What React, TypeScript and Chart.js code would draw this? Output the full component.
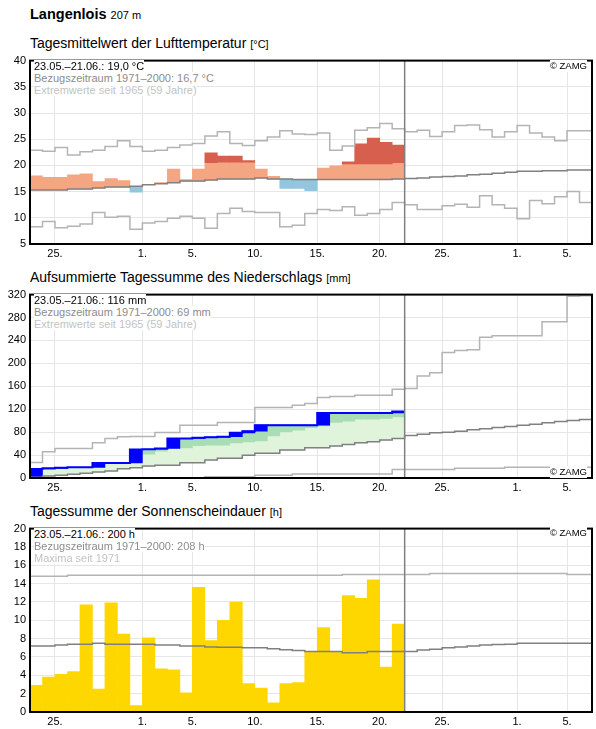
import React, { useEffect, useRef } from 'react';
import { Chart, registerables } from 'chart.js';

Chart.register(...registerables);

const FONT = '"Liberation Sans", Arial, Helvetica, sans-serif';
const GRID = '#e6e6e6';

// Day index 0 = 23.05.; observed 23.05.–21.06. (30 days); axis to 06.07. (45 days)
const totalDays = 45;
const obsEnd = 30;
const tickDays = [2, 9, 13, 18, 23, 28, 33, 39, 43];
const tickLabels = ['25.', '1.', '5.', '10.', '15.', '20.', '25.', '1.', '5.'];

// ---------- Temperature (°C) ----------
const tempActual = [18.0, 17.7, 17.7, 18.2, 18.4, 16.9, 17.5, 17.1, 14.9, 16.3, 16.7, 19.3, 17.3, 19.3, 22.4, 21.8, 21.8, 20.9, 19.3, 17.9, 15.6, 15.6, 15.2, 19.5, 19.9, 20.7, 24.1, 25.2, 24.4, 23.9];
const tempMean = [15.3, 15.3, 15.3, 15.5, 15.5, 15.7, 15.9, 15.9, 16.0, 16.3, 16.5, 16.7, 17.0, 17.0, 17.2, 17.4, 17.4, 17.4, 17.6, 17.4, 17.4, 17.3, 17.3, 17.3, 17.3, 17.3, 17.3, 17.3, 17.3, 17.4, 17.5, 17.6, 17.8, 17.9, 18.0, 18.2, 18.3, 18.5, 18.7, 18.9, 18.9, 19.0, 19.0, 19.1, 19.1];
const tempUpper = [18.5, 18.5, 18.5, 18.7, 18.7, 18.9, 19.1, 19.1, 19.2, 19.5, 19.7, 19.9, 20.2, 20.2, 20.5, 20.6, 20.6, 20.6, 20.7, 20.6, 20.6, 20.5, 20.4, 20.4, 20.4, 20.3, 20.3, 20.3, 20.3, 20.5];
const tempMax = [22.9, 22.7, 23.4, 22.0, 22.6, 22.9, 23.6, 24.7, 23.6, 22.7, 22.9, 23.4, 23.9, 24.2, 25.6, 26.4, 24.2, 23.8, 24.7, 25.4, 26.6, 26.0, 25.9, 26.2, 22.9, 23.7, 26.7, 27.2, 28.0, 27.0, 26.4, 26.7, 25.5, 26.4, 27.6, 27.7, 26.8, 25.4, 26.4, 27.6, 26.2, 25.4, 24.7, 26.6, 26.6];
const tempMin = [8.3, 9.3, 8.1, 8.4, 8.8, 11.0, 10.1, 10.3, 7.8, 9.0, 9.3, 9.9, 10.3, 9.9, 8.0, 10.8, 11.8, 11.2, 11.0, 11.0, 8.3, 8.6, 10.8, 11.6, 11.4, 12.1, 10.5, 10.8, 11.6, 12.9, 12.5, 11.6, 11.6, 12.3, 12.6, 12.0, 14.2, 12.5, 11.8, 9.8, 13.3, 12.7, 14.0, 15.0, 12.9];

// ---------- Precipitation, cumulative (mm) ----------
const precipCum = [15.7, 16.8, 18.0, 18.6, 18.6, 26.1, 26.1, 26.3, 49.9, 50.2, 51.6, 69.0, 69.0, 70.2, 71.3, 71.9, 78.8, 81.7, 92.2, 92.2, 92.2, 92.2, 92.2, 113.5, 113.5, 113.5, 113.5, 113.5, 113.5, 116.0];
const precipUpper = [30, 33, 35, 36, 37, 38, 39, 40, 41, 41.7, 47, 51.5, 52.7, 56.2, 57.4, 57.4, 61.4, 63.1, 64.9, 73.6, 80.5, 83.5, 88, 91, 96.8, 99, 102.6, 102.6, 104, 106.6];
const precipMean = [1.2, 3.5, 4.6, 6.4, 8.1, 10.4, 12.2, 16.2, 17.9, 21.0, 22.1, 22.1, 26.6, 26.6, 31.3, 34.3, 34.3, 39.5, 43.0, 43.0, 48.7, 48.7, 52.7, 52.7, 55.7, 58.6, 61.4, 63.2, 66.1, 69.0, 74.2, 76.5, 78.8, 80.0, 81.7, 84.0, 85.8, 88.1, 89.9, 92.2, 93.9, 96.2, 98.6, 100.3, 102.0];
const precipMax = [27.2, 45.8, 51.6, 51.6, 51.6, 61.4, 69.0, 71.8, 72.5, 72.5, 79.4, 79.4, 92.2, 92.2, 92.2, 96.8, 96.8, 96.8, 123.0, 123.0, 123.0, 127.0, 129.9, 140.3, 142.0, 142.0, 144.3, 144.3, 144.3, 154.8, 156.0, 178.0, 183.8, 219.0, 222.6, 223.8, 245.8, 248.0, 248.0, 248.0, 248.0, 272.5, 272.5, 317.0, 318.0];
const precipMin = [0, 0, 0, 0, 0, 0, 0, 0, 0, 0, 0, 0, 0, 0, 2, 2, 2, 2, 5, 5, 5, 7, 7, 7, 7, 7, 7, 7, 7, 15, 15, 15, 15, 15, 17, 17, 17, 17, 18.6, 18.6, 18.6, 18.6, 18.6, 18.6, 18.6];

// ---------- Sunshine (h) ----------
const sunHours = [2.9, 3.8, 4.1, 4.4, 11.7, 2.5, 11.9, 8.5, 0.7, 8.1, 4.7, 4.6, 2.1, 13.6, 7.8, 10.0, 12.0, 3.1, 2.6, 1.0, 3.1, 3.2, 6.6, 9.2, 6.6, 12.7, 12.4, 14.4, 4.9, 9.6];
const sunMean = [7.2, 7.2, 7.3, 7.4, 7.4, 7.5, 7.4, 7.4, 7.4, 7.4, 7.3, 7.3, 7.2, 7.2, 7.1, 7.05, 7.05, 7.0, 7.0, 6.9, 6.8, 6.7, 6.6, 6.6, 6.6, 6.45, 6.45, 6.6, 6.6, 6.6, 6.6, 6.75, 6.85, 7.0, 7.1, 7.2, 7.3, 7.35, 7.4, 7.5, 7.5, 7.5, 7.5, 7.5, 7.5];
const sunMax = [14.8, 14.8, 14.8, 14.9, 14.9, 14.9, 14.9, 14.9, 14.9, 14.9, 14.9, 14.9, 14.9, 14.9, 14.9, 14.9, 14.9, 14.9, 14.9, 14.9, 14.9, 14.9, 14.9, 14.9, 14.9, 15.0, 15.0, 15.0, 15.0, 15.0, 15.0, 15.0, 15.1, 15.1, 15.1, 15.1, 15.1, 15.1, 15.1, 15.1, 15.1, 15.1, 15.1, 15.0, 15.0];

type Pair = [number, number] | null;

const stepPoints = (vals: number[]) => vals.flatMap((v, i) => [{ x: i, y: v }, { x: i + 1, y: v }]);
const barPoints = (pairs: Pair[]) => pairs.map((p, i) => ({ x: i + 0.5, y: p }));

const lineDs = (vals: number[], color: string, width: number, order: number) => ({
  type: 'line', data: stepPoints(vals), borderColor: color, borderWidth: width,
  pointRadius: 0, fill: false, tension: 0, order,
});
const barDs = (pairs: Pair[], color: string, order: number) => ({
  type: 'bar', data: barPoints(pairs), backgroundColor: color, borderWidth: 0,
  barPercentage: 1, categoryPercentage: 1, grouped: false, order,
});
const dividerDs = (lo: number, hi: number) => ({
  type: 'line', data: [{ x: obsEnd, y: lo }, { x: obsEnd, y: hi }],
  borderColor: '#808080', borderWidth: 1.5, pointRadius: 0, fill: false, order: 0,
});

const framePlugin = {
  id: 'frame',
  afterDraw(chart: any) {
    const { ctx, chartArea: a } = chart;
    ctx.save();
    ctx.strokeStyle = '#000';
    ctx.lineWidth = 2;
    ctx.strokeRect(a.left, a.top, a.right - a.left, a.bottom - a.top);
    ctx.restore();
  },
};

function makeConfig(yMin: number, yMax: number, yStep: number, datasets: any[]): any {
  return {
    type: 'bar',
    data: { datasets },
    options: {
      responsive: false,
      animation: false,
      devicePixelRatio: 1,
      events: [],
      layout: { padding: { left: 0, right: 4, top: 8, bottom: 0 } },
      plugins: { legend: { display: false }, tooltip: { enabled: false } },
      scales: {
        x: {
          type: 'linear', min: 0, max: totalDays, offset: false,
          grid: { offset: false, color: GRID, drawTicks: false, lineWidth: 1 },
          border: { display: false },
          afterBuildTicks: (s: any) => { s.ticks = tickDays.map((v) => ({ value: v })); },
          afterFit: (s: any) => { s.height = 17; },
          ticks: {
            autoSkip: false, maxRotation: 0, minRotation: 0, padding: 3, color: '#000',
            font: { family: FONT, size: 11 },
            callback: (v: number) => { const i = tickDays.indexOf(v); return i >= 0 ? tickLabels[i] : ''; },
          },
        },
        y: {
          type: 'linear', min: yMin, max: yMax,
          grid: { color: GRID, drawTicks: false, lineWidth: 1 },
          border: { display: false },
          afterFit: (s: any) => { s.width = 30; },
          ticks: { stepSize: yStep, padding: 4, color: '#000', font: { family: FONT, size: 11 } },
        },
      },
    },
    plugins: [framePlugin],
  };
}

// derived bar tables
const tempWarm: Pair[] = tempActual.map((v, i) => (v > tempMean[i] ? [tempMean[i], Math.min(v, tempUpper[i])] : null));
const tempHot: Pair[] = tempActual.map((v, i) => (v > tempUpper[i] ? [tempUpper[i], v] : null));
const tempCool: Pair[] = tempActual.map((v, i) => (v < tempMean[i] ? [v, tempMean[i]] : null));

const precipLight: Pair[] = precipCum.map((c, i) => (c > precipMean[i] ? [precipMean[i], Math.min(c, precipUpper[i])] : null));
const precipDark: Pair[] = precipCum.map((c, i) => (c > precipUpper[i] ? [precipUpper[i], c] : null));
const precipDaily: Pair[] = precipCum.map((c, i) => [i === 0 ? 0 : precipCum[i - 1], c]);

const sunBars: Pair[] = sunHours.map((v) => [0, v]);

const CANVAS_H = 211;
const panelTops = [50, 284, 518];

function TextLine({ left, top, color, children, size = 11 }: any) {
  return (
    <span style={{ position: 'absolute', left, top, fontSize: size, lineHeight: '12px', color, background: '#fff', whiteSpace: 'nowrap' }}>
      {children}
    </span>
  );
}

function Title({ top, text, unit }: any) {
  return (
    <div style={{ position: 'absolute', left: 30, top, fontSize: 14, lineHeight: '18px', color: '#000', whiteSpace: 'nowrap' }}>
      {text} <span style={{ fontSize: 11 }}>{unit}</span>
    </div>
  );
}

export default function App() {
  const c1 = useRef<HTMLCanvasElement>(null);
  const c2 = useRef<HTMLCanvasElement>(null);
  const c3 = useRef<HTMLCanvasElement>(null);

  useEffect(() => {
    const ch1 = new Chart(c1.current as HTMLCanvasElement, makeConfig(5, 40, 5, [
      dividerDs(5, 40),
      lineDs(tempMax, '#b4b4b4', 1.5, 1),
      lineDs(tempMin, '#b4b4b4', 1.5, 1),
      lineDs(tempMean, '#808080', 1.5, 1),
      barDs(tempHot, '#d6604d', 5),
      barDs(tempWarm, '#f4a582', 6),
      barDs(tempCool, '#92c5de', 6),
    ]));
    const ch2 = new Chart(c2.current as HTMLCanvasElement, makeConfig(0, 320, 40, [
      dividerDs(0, 320),
      lineDs(precipMax, '#b4b4b4', 1.5, 1),
      lineDs(precipMin, '#b4b4b4', 1.5, 1),
      lineDs(precipMean, '#808080', 1.5, 1),
      lineDs(precipCum, '#0000ff', 2, 2),
      barDs(precipDaily, '#0000ff', 3),
      barDs(precipDark, '#a8ddb5', 4),
      barDs(precipLight, '#e0f3db', 5),
    ]));
    const ch3 = new Chart(c3.current as HTMLCanvasElement, makeConfig(0, 20, 2, [
      dividerDs(0, 20),
      lineDs(sunMax, '#b4b4b4', 1.5, 1),
      lineDs(sunMean, '#808080', 1.5, 1),
      barDs(sunBars, '#ffd700', 5),
    ]));
    return () => { ch1.destroy(); ch2.destroy(); ch3.destroy(); };
  }, []);

  const canvasStyle = (top: number): React.CSSProperties => ({ position: 'absolute', left: 0, top, display: 'block' });
  const legendTop = (i: number) => panelTops[i] + 8 + 2;

  return (
    <div style={{ position: 'absolute', left: 0, top: 0, width: 596, height: 729, background: '#fff', fontFamily: FONT, overflow: 'hidden' }}>
      <div style={{ position: 'absolute', left: 30, top: 5, fontSize: 14.5, lineHeight: '18px', fontWeight: 'bold', whiteSpace: 'nowrap' }}>
        Langenlois <span style={{ fontSize: 11, fontWeight: 'normal' }}>207 m</span>
      </div>

      <Title top={34} text="Tagesmittelwert der Lufttemperatur" unit="[°C]" />
      <Title top={268} text="Aufsummierte Tagessumme des Niederschlags" unit="[mm]" />
      <Title top={502} text="Tagessumme der Sonnenscheindauer" unit="[h]" />

      <canvas ref={c1} width={596} height={CANVAS_H} style={canvasStyle(panelTops[0])} />
      <canvas ref={c2} width={596} height={CANVAS_H} style={canvasStyle(panelTops[1])} />
      <canvas ref={c3} width={596} height={CANVAS_H} style={canvasStyle(panelTops[2])} />

      <TextLine left={34} top={legendTop(0)} color="#000">23.05.–21.06.: 19,0 °C</TextLine>
      <TextLine left={34} top={legendTop(0) + 12} color="#8c8c8c">Bezugszeitraum 1971–2000: 16,7 °C</TextLine>
      <TextLine left={34} top={legendTop(0) + 24} color="#c3c3c3">Extremwerte seit 1965 (59 Jahre)</TextLine>
      <span style={{ position: 'absolute', right: 9, top: panelTops[0] + 8 + 2, fontSize: 9.5, lineHeight: '12px', background: '#fff' }}>© ZAMG</span>

      <TextLine left={34} top={legendTop(1)} color="#000">23.05.–21.06.: 116 mm</TextLine>
      <TextLine left={34} top={legendTop(1) + 12} color="#8c8c8c">Bezugszeitraum 1971–2000: 69 mm</TextLine>
      <TextLine left={34} top={legendTop(1) + 24} color="#c3c3c3">Extremwerte seit 1965 (59 Jahre)</TextLine>
      <span style={{ position: 'absolute', right: 9, top: panelTops[1] + 8 + 186 - 12, fontSize: 9.5, lineHeight: '12px', background: '#fff' }}>© ZAMG</span>

      <TextLine left={34} top={legendTop(2)} color="#000">23.05.–21.06.: 200 h</TextLine>
      <TextLine left={34} top={legendTop(2) + 12} color="#8c8c8c">Bezugszeitraum 1971–2000: 208 h</TextLine>
      <TextLine left={34} top={legendTop(2) + 24} color="#c3c3c3">Maxima seit 1971</TextLine>
      <span style={{ position: 'absolute', right: 9, top: panelTops[2] + 8 + 1, fontSize: 9.5, lineHeight: '12px', background: '#fff' }}>© ZAMG</span>
    </div>
  );
}
